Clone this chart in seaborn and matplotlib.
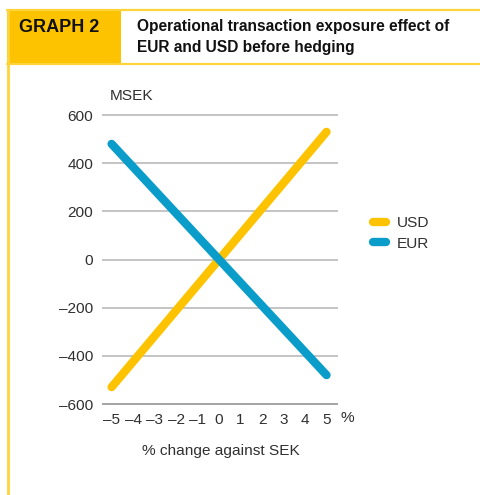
import matplotlib
matplotlib.use("Agg")
import matplotlib.pyplot as plt
from matplotlib.patches import Rectangle
from matplotlib.lines import Line2D
import seaborn as sns
import pandas as pd

# Exposure (MSEK) at the ends of the range of SEK moves
pct_change = [-5, 5]
usd_effect = [-530, 530]
eur_effect = [480, -480]

series_names = ["USD", "EUR"]
series_colors = ["#FDC300", "#0A9DC9"]

x_ticks = [-5, -4, -3, -2, -1, 0, 1, 2, 3, 4, 5]
x_tick_labels = ["–5", "–4", "–3", "–2", "–1", "0", "1", "2", "3", "4", "5"]
y_ticks = [-600, -400, -200, 0, 200, 400, 600]
y_tick_labels = ["–600", "–400", "–200", "0", "200", "400", "600"]

header_tag = "GRAPH 2"
header_title = "Operational transaction exposure effect of\nEUR and USD before hedging"
x_label = "% change against SEK"
y_unit = "MSEK"

df = pd.DataFrame({
    "change": pct_change * 2,
    "effect": usd_effect + eur_effect,
    "currency": [series_names[0]] * 2 + [series_names[1]] * 2,
})

sns.set_theme(style="white")
plt.rcParams["font.family"] = ["Liberation Sans", "DejaVu Sans"]
text_color = "#303030"
fs = 11.1

W, H = 481, 495
fig = plt.figure(figsize=(W / 100, H / 100), dpi=100)

def fx(px):
    return px / W

def fy(py):
    return 1 - py / H

# axes placement in pixels
left_px, right_px = 101.7, 337.7
ylo, yhi = -610, 610
ppu = (404 - 115) / 1200.0
top_px = 115 - (yhi - 600) * ppu
bot_px = 404 + (-600 - ylo) * ppu
ax = fig.add_axes([fx(left_px), fy(bot_px), fx(right_px) - fx(left_px), (bot_px - top_px) / H])

palette = dict(zip(series_names, series_colors))
sns.lineplot(data=df, x="change", y="effect", hue="currency", palette=palette,
             linewidth=6, ax=ax, legend=False)
for line in ax.lines:
    line.set_solid_capstyle("round")
    line.set_zorder(3)

ax.set_xlim(-5.46, 5.52)
ax.set_ylim(ylo, yhi)
ax.set_xticks(x_ticks)
ax.set_xticklabels(x_tick_labels)
ax.set_yticks(y_ticks)
ax.set_yticklabels(y_tick_labels)
ax.tick_params(axis="both", length=0, labelsize=fs, labelcolor=text_color)
ax.tick_params(axis="x", pad=4.5)
ax.tick_params(axis="y", pad=6)
ax.set_xlabel("")
ax.set_ylabel("")
for s in ax.spines.values():
    s.set_visible(False)
for yv in y_ticks:
    ax.axhline(yv, color="#8a8a8a" if yv == -600 else "#b4b4b4", linewidth=1.1, zorder=1)

# legend
handles = [Line2D([0], [0], color=c, linewidth=6, solid_capstyle="round") for c in series_colors]
fig.legend(handles, series_names, loc="center left",
           bbox_to_anchor=(fx(373), fy(233.5)), frameon=False, fontsize=fs,
           handlelength=0.85, handletextpad=0.7, labelspacing=0.4,
           labelcolor=text_color, borderaxespad=0, borderpad=0)

# texts around the plot
fig.text(fx(110), fy(96), y_unit, fontsize=fs, color=text_color, ha="left", va="center")
fig.text(fx(341), fy(418), "%", fontsize=fs, color=text_color, ha="left", va="center")
fig.text(fx(221), fy(451.5), x_label, fontsize=fs, color=text_color, ha="center", va="center")

# header frame
yellow = "#FDC300"
border = "#FFD43A"
fig.patches.append(Rectangle((fx(7), fy(64)), fx(121) - fx(7), (64 - 10) / H,
                             transform=fig.transFigure, facecolor=yellow, edgecolor="none", zorder=0))
fig.lines.append(Line2D([fx(7), 1], [fy(10), fy(10)], transform=fig.transFigure, color=border, linewidth=1.6))
fig.lines.append(Line2D([fx(7), 1], [fy(63.5), fy(63.5)], transform=fig.transFigure, color=border, linewidth=1.6))
fig.lines.append(Line2D([fx(8), fx(8)], [fy(10), 0], transform=fig.transFigure, color=border, linewidth=2))

fig.text(fx(19), fy(27.5), header_tag, fontsize=13, fontweight="bold", color="#111111", ha="left", va="center")
fig.text(fx(137), fy(37), header_title, fontsize=11.2, fontweight="bold", color="#111111",
         ha="left", va="center", linespacing=1.45)

fig.savefig("out.png", dpi=100)
